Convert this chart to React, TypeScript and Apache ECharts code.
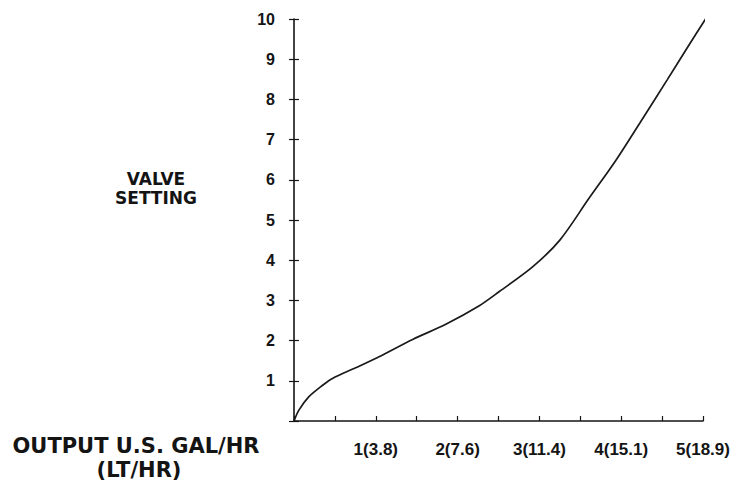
import React, { useEffect, useRef } from "react";
import * as echarts from "echarts";

const outputGalHr = [0, 0.06, 0.18, 0.35, 0.47, 0.76, 1.04, 1.45, 1.85, 2.26, 2.51, 2.92, 3.25, 3.6, 3.94, 4.23, 4.56, 4.8, 5.05];
const valveSetting = [0, 0.27, 0.6, 0.89, 1.06, 1.33, 1.6, 2.03, 2.4, 2.86, 3.22, 3.84, 4.5, 5.52, 6.5, 7.42, 8.48, 9.26, 10.06];
const xTickLabels: Record<number, string> = {
  1: "1(3.8)",
  2: "2(7.6)",
  3: "3(11.4)",
  4: "4(15.1)",
  5: "5(18.9)",
};
const yTickValues = [1, 2, 3, 4, 5, 6, 7, 8, 9, 10];

const FONT = "'DejaVu Sans', sans-serif";
const TICK_FONT = "'Liberation Sans', Arial, sans-serif";
const INK = "#141414";

export default function App() {
  const ref = useRef<HTMLDivElement>(null);
  useEffect(() => {
    if (!ref.current) return;
    const chart = echarts.init(ref.current, null, { renderer: "svg" });
    const data = outputGalHr.map((x, i) => [x, valveSetting[i]]);
    chart.setOption({
      animation: false,
      backgroundColor: "#ffffff",
      grid: { left: 294, right: 36, top: 19, bottom: 63, containLabel: false },
      xAxis: {
        type: "value",
        min: 0,
        max: 5,
        interval: 0.5,
        axisLine: { show: true, lineStyle: { color: INK, width: 1.6 } },
        axisTick: { show: true, inside: true, length: 5, lineStyle: { color: INK, width: 1.2 } },
        splitLine: { show: false },
        axisLabel: {
          show: true,
          margin: 20,
          color: INK,
          fontFamily: TICK_FONT,
          fontWeight: "bold",
          fontSize: 17,
          formatter: (v: number) => (Number.isInteger(v) && xTickLabels[v] ? xTickLabels[v] : ""),
        },
      },
      yAxis: [
        {
          type: "value",
          min: 0,
          max: 10,
          interval: 1,
          axisLine: { show: true, lineStyle: { color: INK, width: 1.6 } },
          axisTick: { show: true, inside: false, length: 5, lineStyle: { color: INK, width: 1.2 } },
          splitLine: { show: false },
          axisLabel: {
            show: true,
            margin: 19,
            color: INK,
            fontFamily: TICK_FONT,
            fontWeight: "bold",
            fontSize: 16,
            formatter: (v: number) => (yTickValues.includes(v) ? String(v) : ""),
          },
        },
        {
          type: "value",
          position: "left",
          min: 0,
          max: 10,
          interval: 1,
          axisLine: { show: false },
          axisTick: { show: true, inside: true, length: 5, lineStyle: { color: INK, width: 1.2 } },
          splitLine: { show: false },
          axisLabel: { show: false },
        },
      ],
      graphic: [
        {
          type: "text",
          x: 156,
          y: 179,
          style: {
            text: "VALVE",
            fill: INK,
            font: `bold 17px ${FONT}`,
            textAlign: "center",
            textVerticalAlign: "middle",
          },
        },
        {
          type: "text",
          x: 156,
          y: 198,
          style: {
            text: "SETTING",
            fill: INK,
            font: `bold 17px ${FONT}`,
            textAlign: "center",
            textVerticalAlign: "middle",
          },
        },
        {
          type: "text",
          x: 136,
          y: 446,
          style: {
            text: "OUTPUT U.S. GAL/HR",
            fill: INK,
            font: `bold 21px ${FONT}`,
            textAlign: "center",
            textVerticalAlign: "middle",
          },
        },
        {
          type: "text",
          x: 139,
          y: 470,
          style: {
            text: "(LT/HR)",
            fill: INK,
            font: `bold 21px ${FONT}`,
            textAlign: "center",
            textVerticalAlign: "middle",
          },
        },
      ],
      series: [
        {
          type: "line",
          data,
          smooth: 0.3,
          symbol: "none",
          clip: false,
          lineStyle: { color: "#1a1a1a", width: 1.7 },
        },
      ],
    });
    return () => chart.dispose();
  }, []);
  return (
    <div
      ref={ref}
      style={{ position: "fixed", left: 0, top: 0, width: 739, height: 484, background: "#fff" }}
    />
  );
}
